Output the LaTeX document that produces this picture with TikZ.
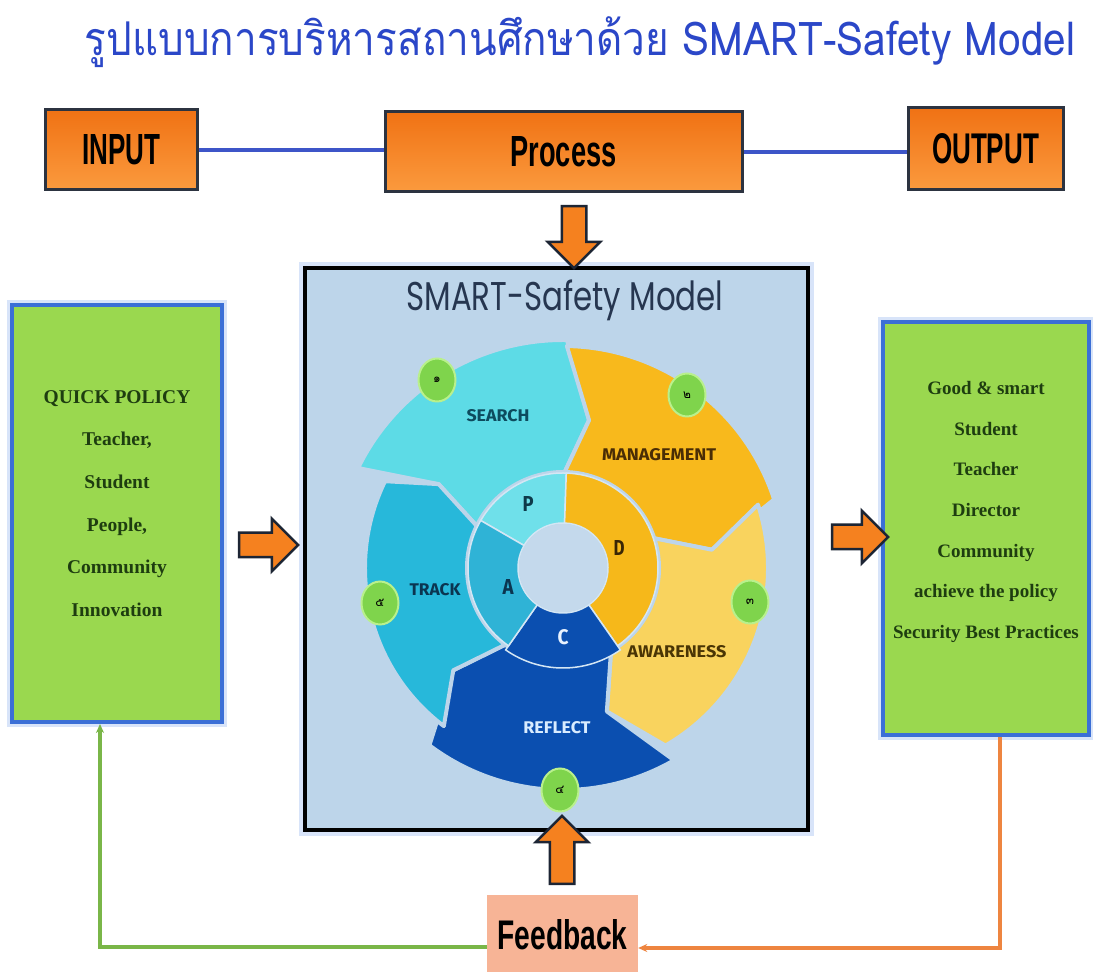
\documentclass[tikz,border=0pt]{standalone}
\usepackage{fontspec}
\usepackage{graphicx}
\usetikzlibrary{shapes.arrows,shapes.geometric,arrows.meta,calc}
\setmainfont{Liberation Serif}
\newfontfamily\thaifont[Script=Thai]{Loma}
\newfontfamily\arialfont{Liberation Sans}
\newfontfamily\wheelfont{Fira Sans}
\newfontfamily\modelfont{Poppins}
\definecolor{titleblue}{HTML}{2B47C8}
\definecolor{orangeT}{HTML}{F07214}
\definecolor{orangeB}{HTML}{FB9A3E}
\definecolor{boxborder}{HTML}{2C3340}
\definecolor{lineblue}{HTML}{3D55C8}
\definecolor{bgblue}{HTML}{BDD5EA}
\definecolor{glowblue}{HTML}{A9C4F2}
\definecolor{greenfill}{HTML}{9AD84F}
\definecolor{greenborder}{HTML}{3B6FD6}
\definecolor{textgreen}{HTML}{1E3D10}
\definecolor{arroworange}{HTML}{F5811F}
\definecolor{arrowborder}{HTML}{1D2534}
\definecolor{fbfill}{HTML}{F7B496}
\definecolor{fbgreen}{HTML}{7AB648}
\definecolor{fborange}{HTML}{EE8540}
\definecolor{cSearch}{HTML}{5DDBE6}
\definecolor{cP}{HTML}{6FE0EA}
\definecolor{cTrack}{HTML}{27B8DA}
\definecolor{cA}{HTML}{2FB3D6}
\definecolor{cMan}{HTML}{F8B91C}
\definecolor{cD}{HTML}{F6B81A}
\definecolor{cAware}{HTML}{F9D35E}
\definecolor{cReflect}{HTML}{0B4FB0}
\definecolor{ringline}{HTML}{D4E6F4}
\definecolor{badgefill}{HTML}{7FD44C}
\definecolor{badgeline}{HTML}{B9F08C}
\definecolor{modeltext}{HTML}{263650}
% segment: color, start, end, r1, r2, dstart, dend
\newcommand{\wseg}[7]{%
  \fill[#1, draw=bgblue, line width=4pt, line join=round]
    (#2:#5) arc[start angle=#2, end angle=#3, radius=#5]
    -- ({#3-#7}:150) -- (#3:#4)
    arc[start angle=#3, end angle=#2, radius=#4]
    -- ({#2-#6}:150) -- cycle;}
\newcommand{\rseg}[4]{%
  \fill[#1, draw=ringline, line width=1.5pt]
    (#2:#4) arc[start angle=#2, end angle=#3, radius=#4]
    -- (#3:45) arc[start angle=#3, end angle=#2, radius=45] -- cycle;}
\newcommand{\wlbl}[3]{\resizebox{#1}{#2}{\wheelfont\bfseries #3}}
\begin{document}
\begin{tikzpicture}[x=1pt,y=1pt,
  topbox/.style={draw=boxborder, line width=3pt, top color=orangeT, bottom color=orangeB, inner sep=0pt},
  blueline/.style={draw=lineblue, line width=4pt},
  greenbox/.style={draw=greenborder, line width=4pt, fill=greenfill,
     preaction={draw=glowblue, line width=10pt, opacity=.45}},
  boxtext/.style={align=center, text=textgreen, inner sep=0pt},
  blockarrow/.style={single arrow, draw=arrowborder, line width=2.5pt, fill=arroworange,
     inner xsep=0pt, inner ysep=11pt, single arrow head extend=14pt, single arrow tip angle=90},
  badge/.style={ellipse, fill=badgefill, draw=badgeline, line width=2pt, minimum width=37pt, minimum height=43pt, inner sep=0pt, font=\thaifont\fontsize{12}{12}\selectfont},
  fbline/.style={line width=3.5pt}
]
\useasboundingbox (0,0) rectangle (1093,972);
\fill[white] (0,0) rectangle (1093,972);

% title
\node[inner sep=0pt] (title) at (580,930) {\scalebox{1}[1.15]{\resizebox{990pt}{!}{\thaifont\color{titleblue}รูปแบบการบริหารสถานศึกษาด้วย SMART-Safety Model}}};

% top row
\node[topbox, minimum width=152pt, minimum height=80pt] (input) at (121,822) {\resizebox{78pt}{30pt}{\arialfont\bfseries INPUT}};
\node[topbox, minimum width=357pt, minimum height=80pt] (process) at (563.5,820) {\resizebox{106pt}{30pt}{\arialfont\bfseries Process}};
\node[topbox, minimum width=155pt, minimum height=82pt] (output) at (985.5,823) {\resizebox{107pt}{30pt}{\arialfont\bfseries OUTPUT}};
\draw[blueline] (input.east) -- (input.east -| process.west);
\draw[blueline] (process.east) -- (process.east -| output.west);

% central model box
\node[draw=black, line width=4pt, fill=bgblue, minimum width=503pt, minimum height=562pt,
      preaction={draw=glowblue, line width=12pt, opacity=.45}] (model) at (556.5,423) {};
\node[inner sep=0pt] (modeltitle) at (565,672) {\scalebox{1}[1.3]{\resizebox{317pt}{!}{\modelfont\color{modeltext}SMART-Safety Model}}};

% wheel
\begin{scope}[shift={(563,404)}]
  \wseg{cSearch}{154}{89}{96}{228}{8}{9}
  \wseg{cMan}{89}{18}{96}{222}{9}{11}
  \wseg{cAware}{18}{-60}{96}{205}{11}{13}
  \wseg{cReflect}{-60}{-127}{96}{222}{13}{10}
  \wseg{cTrack}{233}{154}{96}{198}{10}{8}
  \rseg{cP}{150}{88}{95}
  \rseg{cD}{88}{-55}{95}
  \rseg{cReflect}{-55}{-125}{100}
  \rseg{cA}{235}{150}{95}
  \fill[bgblue!90!white] (0,0) circle[radius=44];
  \node (lsearch) at (-65,152) {\wlbl{63pt}{12pt}{\color[HTML]{0D4B5E}SEARCH}};
  \node (lman) at (96,113) {\wlbl{114pt}{12pt}{\color[HTML]{4A2D05}MANAGEMENT}};
  \node (ltrack) at (-128,-22) {\wlbl{51pt}{12pt}{\color[HTML]{0B3550}TRACK}};
  \node (laware) at (114,-84) {\wlbl{99pt}{12pt}{\color[HTML]{4A3505}AWARENESS}};
  \node (lreflect) at (-6,-160) {\wlbl{67pt}{12pt}{\color[HTML]{D9ECFF}REFLECT}};
  \node (lp) at (-35,64) {\wlbl{11pt}{15pt}{\color[HTML]{0E3A4A}P}};
  \node (ld) at (56,20) {\wlbl{11pt}{15pt}{\color[HTML]{3A2605}D}};
  \node (la) at (-55,-19) {\wlbl{11pt}{15pt}{\color[HTML]{0B3550}A}};
  \node (lc) at (0,-69) {\wlbl{11pt}{15pt}{\color[HTML]{E8F2FF}C}};
  \node[badge] (b1) at (-126,188) {๑};
  \node[badge] (b2) at (124,173) {๒};
  \node[badge] (b3) at (187,-34) {๓};
  \node[badge] (b5) at (-183,-35) {๕};
  \node[badge] (b4) at (-3,-222) {๔};
\end{scope}

% side boxes
\node[greenbox, minimum width=210pt, minimum height=417pt] (leftbox) at (117,458.5) {};
\node[boxtext, font=\fontsize{19.5}{42.6}\selectfont\bfseries] (intext) at (117,468.5)
  {QUICK POLICY\\Teacher,\\Student\\People,\\Community\\Innovation};
\node[greenbox, minimum width=206pt, minimum height=413pt] (rightbox) at (986,443.5) {};
\node[boxtext, font=\fontsize{19}{40.7}\selectfont\bfseries] (outtext) at (986,460)
  {Good \& smart\\Student\\Teacher\\Director\\Community\\achieve the policy\\Security Best Practices};

% block arrows
\node[blockarrow, minimum height=62pt, rotate=-90] (arrdown) at (574,741) {};
\node[blockarrow, minimum height=68pt, rotate=90] (arrup) at (562,116) {};
\node[blockarrow, minimum height=59pt] (arrleft) at (262.5,427) {};
\node[blockarrow, minimum height=56pt] (arrright) at (854,435) {};

% feedback
\node[fill=fbfill, minimum width=151pt, minimum height=80pt, inner sep=0pt] (fb) at (562.5,37) {\resizebox{130pt}{30pt}{\arialfont\bfseries Feedback}};
\draw[fbline, draw=fbgreen, -{Stealth[length=9pt,width=8pt]}] ([yshift=-12pt]fb.west) -| ([xshift=-17pt]leftbox.south);
\draw[fbline, draw=fborange, -{Stealth[length=9pt,width=8pt]}] ([xshift=14pt]rightbox.south) |- ([yshift=-13pt]fb.east);
\end{tikzpicture}
\end{document}
